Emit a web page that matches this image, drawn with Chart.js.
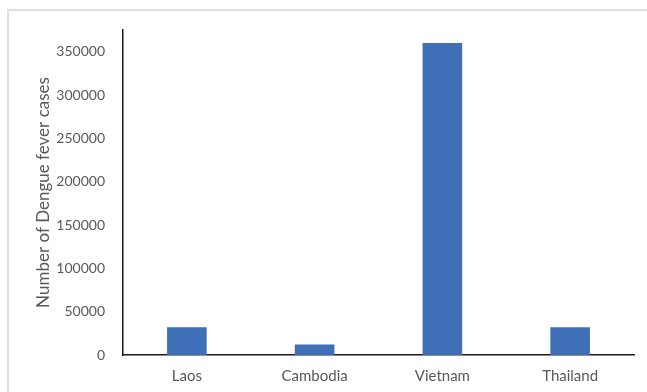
<!DOCTYPE html>
<html>
<head>
<meta charset="utf-8">
<script src="https://cdn.jsdelivr.net/npm/chart.js@4"></script>
<style>
  html, body { margin: 0; padding: 0; background: #fff; }
  #wrap { position: relative; width: 647px; height: 392px; overflow: hidden; background: #fff; }
  #frame { position: absolute; left: 7px; top: 9px; width: 660px; height: 400px; border: 2px solid #dedede; box-sizing: border-box; z-index: 0; }
  canvas { position: absolute; left: 0; top: 0; z-index: 1; }
</style>
</head>
<body>
<div id="wrap">
  <div id="frame"></div>
  <canvas id="c" width="647" height="392"></canvas>
</div>
<script>
const categories = ["Laos", "Cambodia", "Vietnam", "Thailand"];
const cases = [32000, 12000, 360000, 32000];
const yTickValues = [0, 50000, 100000, 150000, 200000, 250000, 300000, 350000];
const yAxisTitle = "Number of Dengue fever cases";

const FONT = "Lato, 'Open Sans', sans-serif";

new Chart(document.getElementById('c'), {
  type: 'bar',
  data: {
    labels: categories,
    datasets: [{
      data: cases,
      backgroundColor: '#3e6fb7',
      borderWidth: 0,
      barPercentage: 0.31,
      categoryPercentage: 1.0
    }]
  },
  options: {
    responsive: false,
    animation: false,
    devicePixelRatio: 1,
    layout: { padding: { left: 0, top: 30, right: 13, bottom: 0 } },
    plugins: { legend: { display: false }, tooltip: { enabled: false } },
    scales: {
      x: {
        grid: { display: false, drawTicks: false },
        border: { display: true, color: '#1a1a1a', width: 1.5 },
        ticks: { color: '#595959', font: { family: FONT, size: 15 }, padding: 12 },
        afterFit: (s) => { s.height = 37; }
      },
      y: {
        min: 0,
        max: 375000,
        grid: { display: false, drawTicks: false },
        border: { display: true, color: '#1a1a1a', width: 1.5 },
        ticks: {
          color: '#595959', font: { family: FONT, size: 14 }, padding: 18, stepSize: 50000,
          callback: (v) => String(v)
        },
        afterBuildTicks: (s) => { s.ticks = yTickValues.map(v => ({ value: v })); },
        title: { display: true, text: yAxisTitle, color: '#595959', font: { family: FONT, size: 17 }, padding: { top: 33, bottom: 0 } },
        afterFit: (s) => { s.width = 123; }
      }
    }
  }
});
</script>
</body>
</html>
